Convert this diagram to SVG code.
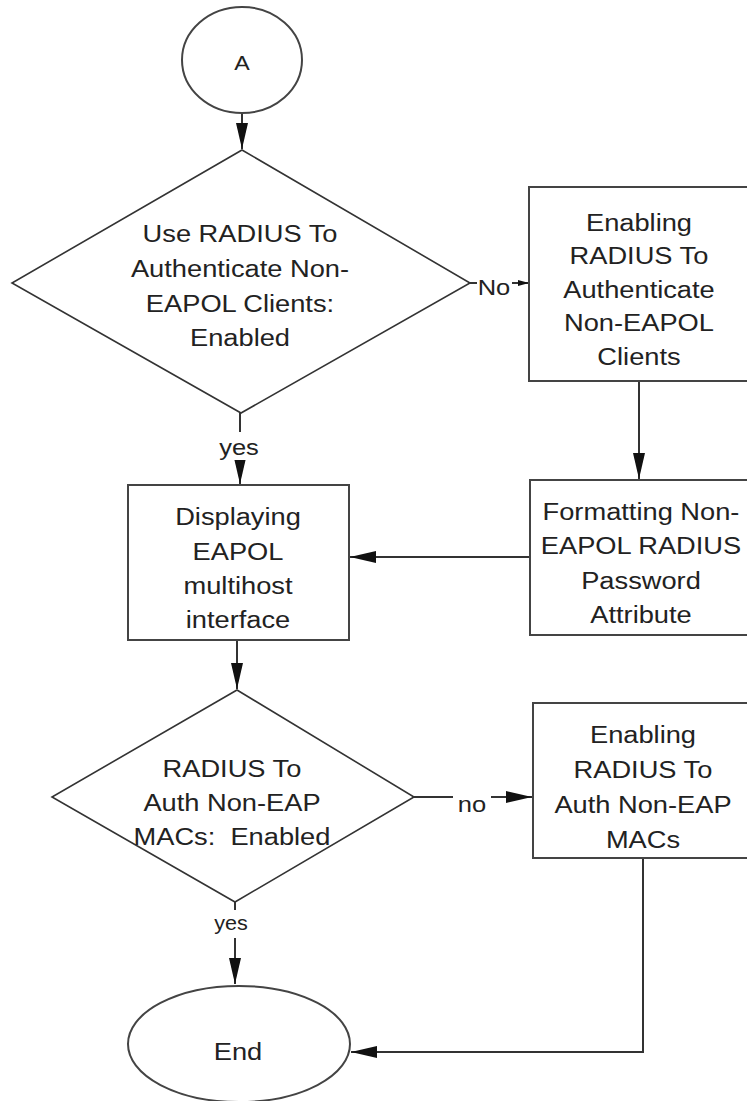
<svg xmlns="http://www.w3.org/2000/svg" width="747" height="1101" viewBox="0 0 747 1101">
<style>
.shape{fill:#fff;stroke:#444;stroke-width:2}
.dia{fill:#fff;stroke:#333;stroke-width:1.6}
.con{fill:none;stroke:#333;stroke-width:2}
text{font-family:"Liberation Sans",Arial,sans-serif;font-size:23.5px;fill:#222;text-anchor:middle}
.lbl{font-size:22px}
.lbl2{font-size:20px}
.bg{fill:#fff}
</style>
<defs>
<marker id="ah" markerUnits="userSpaceOnUse" markerWidth="26" markerHeight="12" refX="26" refY="6" orient="auto">
<path d="M0,0 L26,6 L0,12 Z" fill="#111"/>
</marker>
<marker id="ahs" markerUnits="userSpaceOnUse" markerWidth="11" markerHeight="6" refX="11" refY="3" orient="auto">
<path d="M0,0 L11,3 L0,6 Z" fill="#111"/>
</marker>
</defs>

<g id="connectors">
<line class="con" x1="242" y1="113" x2="242" y2="149" marker-end="url(#ah)"/>
<line class="con" x1="470" y1="283" x2="529" y2="283" marker-end="url(#ahs)"/>
<line class="con" x1="240" y1="413" x2="240" y2="484" marker-end="url(#ah)"/>
<line class="con" x1="639" y1="381" x2="639" y2="479" marker-end="url(#ah)"/>
<line class="con" x1="530" y1="557" x2="350" y2="557" marker-end="url(#ah)"/>
<line class="con" x1="237" y1="640" x2="237" y2="689" marker-end="url(#ah)"/>
<line class="con" x1="414" y1="797" x2="532" y2="797" marker-end="url(#ah)"/>
<line class="con" x1="235" y1="902" x2="235" y2="984" marker-end="url(#ah)"/>
<polyline class="con" points="643,858 643,1052 351,1052" marker-end="url(#ah)"/>
<rect class="bg" x="477" y="272" width="35" height="26"/>
<g transform="translate(494 0) scale(1.16 1)"><text class="lbl" x="0" y="295">No</text></g>
<rect class="bg" x="218" y="432" width="44" height="28"/>
<g transform="translate(239 0) scale(1.16 1)"><text class="lbl" x="0" y="455">yes</text></g>
<rect class="bg" x="453" y="790" width="38" height="26"/>
<g transform="translate(472 0) scale(1.16 1)"><text class="lbl" x="0" y="812">no</text></g>
<rect class="bg" x="211" y="910" width="40" height="28"/>
<g transform="translate(231 0) scale(1.08 1)"><text class="lbl2" x="0" y="930">yes</text></g>
</g>

<g id="start">
<ellipse class="shape" cx="242" cy="60" rx="60" ry="53"/>
<g transform="translate(242 0) scale(1.16 1)"><text x="0" y="70" style="font-size:20px">A</text></g>
</g>

<g id="decision1">
<polygon class="dia" points="242,150 470,283 241,413 12,283"/>
<g transform="translate(240 0) scale(1.16 1)">
<text x="0" y="242">Use RADIUS To</text>
<text x="0" y="277">Authenticate Non-</text>
<text x="0" y="312">EAPOL Clients:</text>
<text x="0" y="346">Enabled</text>
</g>
</g>

<g id="enable-radius-nonEapol">
<rect class="shape" x="529" y="187" width="222" height="194"/>
<g transform="translate(639 0) scale(1.16 1)">
<text x="0" y="231">Enabling</text>
<text x="0" y="264.5">RADIUS To</text>
<text x="0" y="298">Authenticate</text>
<text x="0" y="331.5">Non-EAPOL</text>
<text x="0" y="365">Clients</text>
</g>
</g>

<g id="format-password">
<rect class="shape" x="530" y="480" width="222" height="155"/>
<g transform="translate(641 0) scale(1.16 1)">
<text x="0" y="520">Formatting Non-</text>
<text x="0" y="554">EAPOL RADIUS</text>
<text x="0" y="589">Password</text>
<text x="0" y="623">Attribute</text>
</g>
</g>

<g id="display-multihost">
<rect class="shape" x="128" y="485" width="221" height="155"/>
<g transform="translate(238 0) scale(1.16 1)">
<text x="0" y="525">Displaying</text>
<text x="0" y="560">EAPOL</text>
<text x="0" y="594">multihost</text>
<text x="0" y="628">interface</text>
</g>
</g>

<g id="decision2">
<polygon class="dia" points="237,690 414,797 235,902 52,797"/>
<g transform="translate(232 0) scale(1.16 1)">
<text x="0" y="777">RADIUS To</text>
<text x="0" y="811">Auth Non-EAP</text>
<text x="0" y="845" xml:space="preserve">MACs:  Enabled</text>
</g>
</g>

<g id="enable-radius-macs">
<rect class="shape" x="533" y="703" width="220" height="155"/>
<g transform="translate(643 0) scale(1.16 1)">
<text x="0" y="743">Enabling</text>
<text x="0" y="778">RADIUS To</text>
<text x="0" y="813">Auth Non-EAP</text>
<text x="0" y="848">MACs</text>
</g>
</g>

<g id="end">
<ellipse class="shape" cx="239" cy="1044" rx="111" ry="58"/>
<g transform="translate(238 0) scale(1.16 1)"><text x="0" y="1060">End</text></g>
</g>
</svg>
